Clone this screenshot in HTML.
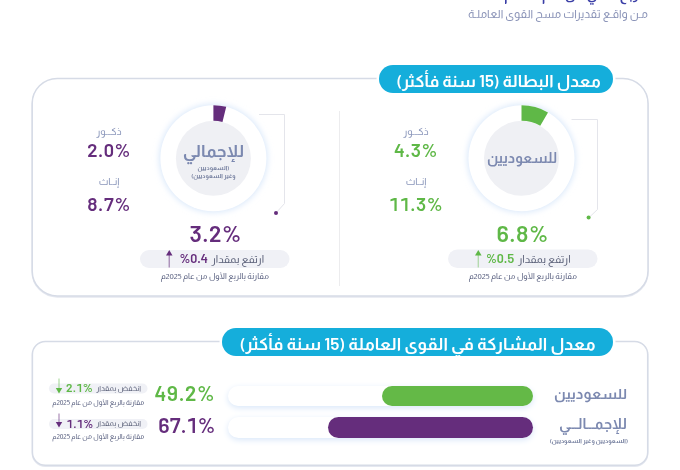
<!DOCTYPE html>
<html lang="ar" dir="rtl">
<head>
<meta charset="utf-8">
<style>
*{margin:0;padding:0;box-sizing:border-box}
html,body{width:680px;height:470px;overflow:hidden;background:#fff}
body{position:relative;font-family:"Almarai","Tajawal","DejaVu Sans",sans-serif;direction:rtl}
.a{position:absolute;white-space:nowrap;line-height:1;text-align:center}
.n{font-family:"Barlow","Readex Pro","DejaVu Sans",sans-serif;direction:ltr;font-variant-numeric:tabular-nums}
.card{position:absolute;border:2px solid #dce1eb;background:#fff;box-shadow:0 1px 0 #e6e9f0}
.pill{position:absolute;box-shadow:0 0 0 2.5px #fff;background:#15aedb;color:#fff;border-radius:14px;font-weight:700;font-size:17px;line-height:27px;padding-top:2px;text-align:center;white-space:nowrap}
.g{color:#5fb847}
.p{color:#652d7c}
.lbl{color:#8b97bb;font-size:10px}
.big{font-size:23px;font-weight:600;letter-spacing:0.5px}
.mid{font-size:19px;font-weight:600;letter-spacing:0.5px}
.dn{color:#7c89b0;font-weight:700}
.gp{position:absolute;background:#f0f1f6;border-radius:10px}
.sm{color:#5a6180;font-size:8.1px;font-weight:500}
.pt{color:#5a6078;font-size:10.6px}
.pn{font-size:13px;font-weight:600;letter-spacing:0}
</style>
</head>
<body><div style="position:absolute;left:0;top:0;width:680px;height:470px;will-change:transform">
<!-- header -->
<div class="a" style="right:32px;top:-12px;font-size:13.5px;font-weight:700;color:#3a3ea6;text-align:right">للربع الثاني من عام 2025م</div>
<div class="a" style="right:32px;top:9px;font-size:11.5px;color:#8b94b8;text-align:right">مـن واقـع تقديرات مسح القوى العاملـة</div>

<!-- card 1 -->
<svg style="position:absolute;left:0;top:0" width="680" height="470"><rect x="32.2" y="79.4" width="615.8" height="217.5" rx="25" fill="none" stroke="#e5e8f0" stroke-width="1.5"/><rect x="32.2" y="78.4" width="615.8" height="217.5" rx="25" fill="#fff" stroke="#d6dbe6" stroke-width="1.5"/></svg>
<div class="pill" style="left:379px;top:65px;width:234px;height:28px;font-size:16.8px;padding-left:5px">معدل البطالة (<span style="font-family:Barlow,Almarai,sans-serif;font-weight:600">15</span> سنة فأكثر)</div>
<div style="position:absolute;left:338.5px;top:111px;width:1px;height:175px;background:#ececee"></div>

<svg style="position:absolute;left:0;top:0" width="680" height="470">
<defs><filter id="gl" x="-30%" y="-30%" width="160%" height="160%"><feGaussianBlur stdDeviation="3"/></filter></defs>
<g transform="translate(456.5,93.3)">
<circle cx="65" cy="65" r="54" fill="#d8e7fa" filter="url(#gl)"/>
<circle cx="65" cy="65" r="53" fill="#fff"/>
<circle cx="65" cy="65" r="37.5" fill="#eff0f4"/>
<path fill="#5fb847" d="M65.00,12.00A53,53 0 0 1 91.50,19.10L83.75,32.52A37.5,37.5 0 0 0 65.00,27.50Z"/>
</g>
<g transform="translate(148.4,93.3)">
<circle cx="65" cy="65" r="54" fill="#d8e7fa" filter="url(#gl)"/>
<circle cx="65" cy="65" r="53" fill="#fff"/>
<circle cx="65" cy="65" r="37.5" fill="#eff0f4"/>
<path fill="#652d7c" d="M65.00,12.00A53,53 0 0 1 77.82,13.57L74.07,28.61A37.5,37.5 0 0 0 65.00,27.50Z"/>
</g>
<polyline points="571.5,119.5 597.5,119.5 597.5,209.5 589,217.5" fill="none" stroke="#e4e5eb" stroke-width="1"/>
<circle cx="588.6" cy="217.5" r="2" fill="#5fb847"/>
<polyline points="259,114.5 284.5,114.5 284.5,203.5 276,213" fill="none" stroke="#e4e5eb" stroke-width="1"/>
<circle cx="276" cy="213" r="2" fill="#652d7c"/>
<!-- pill bg card1 -->
<rect x="448" y="249.5" width="149.5" height="18.5" rx="9.25" fill="#f0f1f6"/>
<rect x="140" y="250" width="149.5" height="18" rx="9" fill="#f0f1f6"/>
<!-- arrows up -->
<line x1="478.3" y1="254" x2="478.3" y2="267.5" stroke="#5fb847" stroke-width="1.4" opacity="0.4"/>
<polygon points="475,255.5 478.3,250 481.6,255.5" fill="#5fb847"/>
<line x1="169.25" y1="254" x2="169.25" y2="267.5" stroke="#652d7c" stroke-width="1.4" opacity="0.5"/>
<polygon points="166,255.5 169.25,250 172.5,255.5" fill="#652d7c"/>
</svg>

<!-- right section text -->
<div class="a dn" style="left:471.5px;width:100px;top:150px;font-size:15.1px;transform:scaleX(0.925)">للسعوديين</div>
<div class="a lbl" style="left:376px;width:80px;top:126.5px">ذكـــور</div>
<div class="a n mid g" style="left:376px;width:80px;top:140px">4.3%</div>
<div class="a lbl" style="left:376px;width:80px;top:177px">إنــاث</div>
<div class="a n mid g" style="left:376px;width:80px;top:194px">11.3%</div>
<div class="a n big g" style="left:472.5px;width:100px;top:221.5px">6.8%</div>
<div class="a pt" style="right:109.5px;top:254px;text-align:right">ارتفع بمقدار</div>
<div class="a n pn g" style="left:486px;top:251.5px;text-align:left">%0.5</div>
<div class="a sm" style="left:448px;width:149.5px;top:273px">مقارنة بالربع الأول من عام 2025م</div>

<!-- left section text -->
<div class="a dn" style="left:163.4px;width:100px;top:143px;font-size:17.4px">للإجمالي</div>
<div class="a dn" style="left:163.4px;width:100px;top:163.5px;font-size:6px;color:#6b7698;line-height:8px">(السعوديين<br>وغير السعوديين)</div>
<div class="a lbl" style="left:69px;width:80px;top:126.5px">ذكـــور</div>
<div class="a n mid p" style="left:69px;width:80px;top:140px">2.0%</div>
<div class="a lbl" style="left:69px;width:80px;top:177px">إنــاث</div>
<div class="a n mid p" style="left:69px;width:80px;top:194px">8.7%</div>
<div class="a n big p" style="left:165.5px;width:100px;top:221.5px">3.2%</div>
<div class="a pt" style="right:416px;top:254px;text-align:right">ارتفع بمقدار</div>
<div class="a n pn p" style="left:179.5px;top:251.5px;text-align:left">%0.4</div>
<div class="a sm" style="left:140px;width:149.5px;top:273px">مقارنة بالربع الأول من عام 2025م</div>

<!-- card 2 -->
<svg style="position:absolute;left:0;top:0" width="680" height="470"><rect x="32.4" y="342.5" width="615.3" height="123.8" rx="13" fill="none" stroke="#e5e8f0" stroke-width="1.5"/><rect x="32.4" y="341.5" width="615.3" height="123.8" rx="13" fill="#fff" stroke="#d6dbe6" stroke-width="1.5"/></svg>
<div class="pill" style="left:222px;top:328px;width:391px;height:27.5px;font-size:17.2px">معدل المشاركة في القوى العاملة (<span style="font-family:Barlow,Almarai,sans-serif;font-weight:600">15</span> سنة فأكثر)</div>

<svg style="position:absolute;left:0;top:0" width="680" height="470">
<rect x="49" y="383.5" width="98.5" height="10" rx="5" fill="#f0f1f6"/>
<rect x="49" y="419" width="98.5" height="10" rx="5" fill="#f0f1f6"/>
<line x1="59" y1="378.6" x2="59" y2="389" stroke="#5fb847" stroke-width="1.3" opacity="0.45"/>
<polygon points="55.8,387.9 62.2,387.9 59,393.6" fill="#5fb847"/>
<line x1="59" y1="413.6" x2="59" y2="423" stroke="#652d7c" stroke-width="1.3" opacity="0.5"/>
<polygon points="55.8,421.9 62.2,421.9 59,427.6" fill="#652d7c"/>
</svg>
<div class="a dn" style="right:53px;top:387px;font-size:14.5px;text-align:right">للسعوديين</div>
<div class="a dn" style="right:53px;top:417px;font-size:14.8px;text-align:right">للإجمـــالـــي</div>
<div class="a dn" style="right:52px;top:438px;font-size:6.1px;color:#6b7698;text-align:right">(السعوديين وغير السعوديين)</div>

<div style="position:absolute;left:227.5px;top:385.5px;width:305.5px;height:20.5px;border-radius:10.25px;background:#fff;box-shadow:0 2px 6px #d9e7f9"></div>
<div style="position:absolute;left:382px;top:385.5px;width:151px;height:20.5px;border-radius:10.25px;background:#64b947"></div>
<div style="position:absolute;left:227.5px;top:417px;width:305.5px;height:21px;border-radius:10.5px;background:#fff;box-shadow:0 2px 6px #d9e7f9"></div>
<div style="position:absolute;left:328px;top:417px;width:205px;height:21px;border-radius:10.5px;background:#652d7c"></div>

<div class="a n big g" style="left:150px;width:70px;top:382.2px;font-size:21px;letter-spacing:0.7px">49.2%</div>
<div class="a n big p" style="left:151.8px;width:70px;top:413.9px;font-size:21px;letter-spacing:0">67.1%</div>

<div class="a pt" style="right:539px;top:384.5px;font-size:7.6px;text-align:right">انخفض بمقدار</div>
<div class="a n pn g" style="left:66px;top:380.6px;text-align:left;font-size:12px;letter-spacing:0.2px">2.1%</div>
<div class="a sm" style="left:49px;width:98.5px;top:399.5px;font-size:6.9px">مقارنة بالربع الأول من عام 2025م</div>

<div class="a pt" style="right:539px;top:419.5px;font-size:7.6px;text-align:right">انخفض بمقدار</div>
<div class="a n pn p" style="left:66.5px;top:416.6px;text-align:left;font-size:12px;letter-spacing:0.2px">1.1%</div>
<div class="a sm" style="left:49px;width:98.5px;top:433.5px;font-size:6.9px">مقارنة بالربع الأول من عام 2025م</div>
</div></body>
</html>
